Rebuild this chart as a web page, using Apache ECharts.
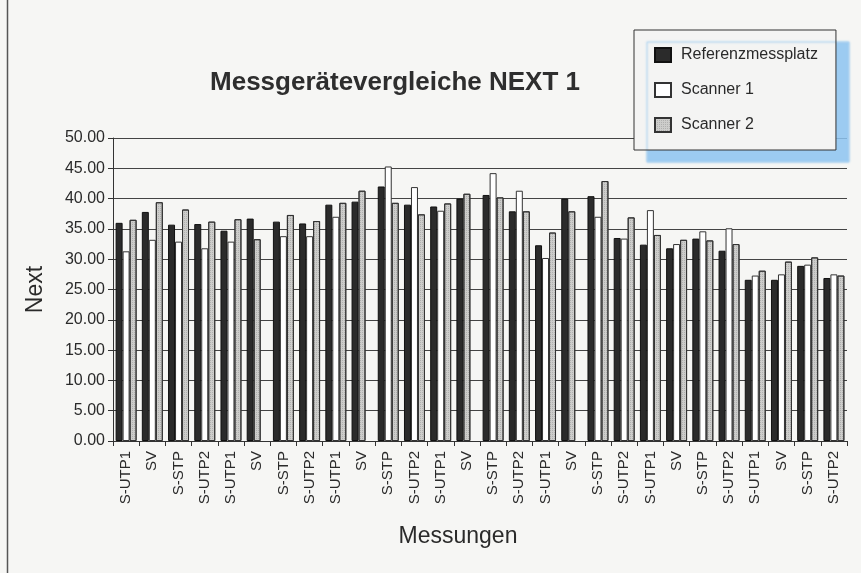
<!DOCTYPE html>
<html>
<head>
<meta charset="utf-8">
<script src="https://cdn.jsdelivr.net/npm/echarts@6/dist/echarts.min.js"></script>
<style>
html,body{margin:0;padding:0;background:#f6f6f4;}
#c{width:861px;height:573px;}
</style>
</head>
<body>
<div id="c"></div>
<script>
var categories = ['S-UTP1','SV','S-STP','S-UTP2','S-UTP1','SV','S-STP','S-UTP2','S-UTP1','SV','S-STP','S-UTP2','S-UTP1','SV','S-STP','S-UTP2','S-UTP1','SV','S-STP','S-UTP2','S-UTP1','SV','S-STP','S-UTP2','S-UTP1','SV','S-STP','S-UTP2'];
var referenz = [36.0,37.8,35.7,35.8,34.7,36.7,36.2,35.9,39.0,39.5,42.0,39.0,38.7,40.0,40.6,37.9,32.3,40.0,40.4,33.5,32.4,31.8,33.4,31.4,26.6,26.6,28.9,26.9];
var scanner1 = [31.3,33.2,32.9,31.8,32.9,null,33.8,33.8,37.0,null,45.3,41.9,38.0,null,44.2,41.3,30.2,null,37.0,33.4,38.1,32.5,34.6,35.1,27.3,27.5,29.1,27.5];
var scanner2 = [36.5,39.4,38.2,36.2,36.6,33.3,37.3,36.3,39.3,41.3,39.3,37.4,39.2,40.8,40.2,37.9,34.4,37.9,42.9,36.9,34.0,33.2,33.1,32.5,28.1,29.6,30.3,27.3];
var yTicks = ['0.00','5.00','10.00','15.00','20.00','25.00','30.00','35.00','40.00','45.00','50.00'];

var grayDecal = {symbol: 'rect', symbolSize: 1, color: 'rgba(90,90,90,0.25)', dashArrayX: [1, 1], dashArrayY: [1, 1], rotation: 0};
var darkStyle = {color:'#2b2b2b', borderColor:'#111', borderWidth:1};
var whiteStyle = {color:'#ffffff', borderColor:'#333', borderWidth:1};
var grayStyle = {color:'#cdcdcb', borderColor:'#333', borderWidth:1, decal: grayDecal};

// In the reference, where Scanner 1 has no value the Scanner 2 bar sits in the second slot
var slot2 = [], slot3 = [];
for (var i = 0; i < categories.length; i++) {
  if (scanner1[i] === null) {
    slot2.push({value: scanner2[i], itemStyle: grayStyle});
    slot3.push(null);
  } else {
    slot2.push(scanner1[i]);
    slot3.push(scanner2[i]);
  }
}

var chart = echarts.init(document.getElementById('c'));
var font = 'Liberation Sans, Arial, Helvetica, sans-serif';
chart.setOption({
  backgroundColor: '#f6f6f4',
  animation: false,
  textStyle: {fontFamily: font},
  title: {
    text: 'Messgerätevergleiche NEXT 1',
    left: 390, top: 65, textAlign: 'center',
    textStyle: {fontFamily: font, fontSize: 26, fontWeight: 'bold', color: '#2e2e2e'}
  },
  legend: {
    orient: 'vertical', left: 634, top: 30,
    padding: [17, 18, 17, 20],
    itemWidth: 16, itemHeight: 14, itemGap: 19,
    icon: 'rect',
    backgroundColor: '#f4f4f3', borderColor: '#333', borderWidth: 1,
    shadowColor: 'rgba(140,195,240,0.85)', shadowBlur: 2, shadowOffsetX: 13, shadowOffsetY: 12,
    textStyle: {fontFamily: font, fontSize: 16, color: '#2a2a2a', padding: [0,0,0,5]},
    data: ['Referenzmessplatz','Scanner 1','Scanner 2']
  },
  grid: {left: 113, right: 14, top: 138, bottom: 132, containLabel: false},
  xAxis: {
    type: 'category', data: categories,
    name: 'Messungen', nameLocation: 'middle', nameGap: 84,
    nameTextStyle: {fontFamily: font, fontSize: 23, color: '#2a2a2a', padding: [0, 44, 0, 0]},
    axisLine: {lineStyle: {color: '#333', width: 1}},
    axisTick: {show: true, length: 5, lineStyle: {color: '#333'}},
    axisLabel: {interval: 0, rotate: 90, fontFamily: font, fontSize: 15, color: '#2a2a2a', margin: 10}
  },
  yAxis: {
    type: 'value', min: 0, max: 50, interval: 5,
    name: 'Next', nameLocation: 'middle', nameGap: 66,
    nameTextStyle: {fontFamily: font, fontSize: 23, color: '#2a2a2a'},
    axisLine: {show: true, lineStyle: {color: '#333', width: 1}},
    axisTick: {show: true, length: 5, lineStyle: {color: '#333'}},
    axisLabel: {fontFamily: font, fontSize: 16, color: '#2a2a2a', margin: 8,
      formatter: function (v) { return yTicks[Math.round(v / 5)]; }},
    splitLine: {show: true, lineStyle: {color: '#444', width: 1.2}}
  },
  series: [
    {name: 'Referenzmessplatz', type: 'bar', data: referenz, itemStyle: darkStyle, barGap: '0%', barCategoryGap: '20%'},
    {name: 'Scanner 1', type: 'bar', data: slot2, itemStyle: whiteStyle, barGap: '0%', barCategoryGap: '20%'},
    {name: 'Scanner 2', type: 'bar', data: slot3, itemStyle: grayStyle, barGap: '0%', barCategoryGap: '20%'}
  ],
  graphic: [
    {type: 'line', shape: {x1: 7.5, y1: 0, x2: 7.5, y2: 573}, style: {stroke: '#555', lineWidth: 1.5}, silent: true}
  ]
});
</script>
</body>
</html>
